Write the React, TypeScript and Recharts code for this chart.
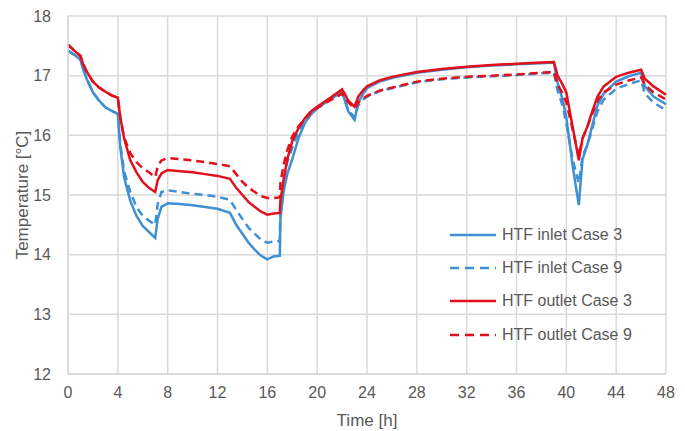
import { LineChart, Line, XAxis, YAxis, CartesianGrid } from 'recharts'

const hours = [
  0, 0.5, 1, 1.2, 1.5, 2, 2.5, 3, 3.5, 4, 4.2, 4.5, 5, 5.5, 6, 6.5, 7, 7.2, 7.5, 8, 9, 10, 11, 12, 13,
  13.5, 14, 14.5, 15, 15.5, 16, 16.5, 17, 17.05, 17.3, 17.6, 18, 18.5, 19, 19.5, 20, 21, 22, 22.2, 22.5,
  23, 23.3, 23.7, 24, 25, 26, 28, 30, 32, 34, 36, 38, 39, 39.3, 39.7, 40, 40.5, 41, 41.3, 41.7, 42, 42.5,
  43, 44, 45, 46, 46.3, 47, 48,
]

const inletCase3 = [
  17.42, 17.35, 17.27, 17.12, 16.95, 16.72, 16.58, 16.47, 16.41, 16.36, 15.8, 15.3, 14.9, 14.65, 14.48,
  14.38, 14.28, 14.6, 14.8, 14.86, 14.85, 14.83, 14.8, 14.77, 14.7, 14.5, 14.35, 14.2, 14.08, 13.98, 13.92,
  13.97, 13.98, 14.6, 15.05, 15.35, 15.6, 15.95, 16.2, 16.35, 16.45, 16.6, 16.72, 16.6, 16.4, 16.26, 16.55,
  16.7, 16.79, 16.9, 16.96, 17.05, 17.1, 17.14, 17.17, 17.19, 17.21, 17.22, 16.88, 16.6, 16.3, 15.5, 14.83,
  15.6, 15.85, 16.1, 16.5, 16.7, 16.9, 16.99, 17.05, 16.82, 16.65, 16.52,
]

const inletCase9 = [
  17.42, 17.35, 17.27, 17.12, 16.95, 16.72, 16.58, 16.47, 16.41, 16.36, 15.85, 15.4, 15.05, 14.8, 14.65,
  14.57, 14.5, 14.85, 15.05, 15.08, 15.05, 15.02, 15.0, 14.97, 14.92, 14.75, 14.6, 14.45, 14.35, 14.25, 14.2,
  14.22, 14.23, 14.8, 15.25, 15.55, 15.8, 16.05, 16.25, 16.38, 16.47, 16.6, 16.7, 16.6, 16.42, 16.3, 16.5,
  16.6, 16.65, 16.74, 16.79, 16.89, 16.94, 16.97, 16.99, 17.01, 17.04, 17.05, 16.75, 16.5, 16.2, 15.6, 15.2,
  15.65, 15.85, 16.05, 16.4, 16.6, 16.78, 16.86, 16.92, 16.7, 16.55, 16.42,
]

const outletCase3 = [
  17.52, 17.42, 17.33, 17.2, 17.07, 16.9, 16.8, 16.73, 16.67, 16.63, 16.3, 15.95, 15.58, 15.38, 15.22,
  15.12, 15.05, 15.25, 15.36, 15.42, 15.4, 15.38, 15.35, 15.32, 15.27, 15.12, 15.0, 14.88, 14.8, 14.72, 14.67,
  14.69, 14.7, 14.9, 15.25, 15.6, 15.9, 16.12, 16.28, 16.4, 16.48, 16.62, 16.77, 16.7, 16.58, 16.48, 16.65,
  16.76, 16.82, 16.92, 16.98, 17.06, 17.11, 17.15, 17.18, 17.2, 17.22, 17.23, 17.0, 16.85, 16.72, 16.15, 15.58,
  15.95, 16.15, 16.35, 16.65, 16.82, 16.98, 17.05, 17.1, 16.95, 16.82, 16.68,
]

const outletCase9 = [
  17.52, 17.42, 17.33, 17.2, 17.07, 16.9, 16.8, 16.73, 16.67, 16.63, 16.3, 15.97, 15.7, 15.55, 15.45,
  15.38, 15.3, 15.48, 15.58, 15.62, 15.6, 15.58, 15.55, 15.52, 15.48, 15.35, 15.22, 15.12, 15.05, 14.98, 14.95,
  14.95, 14.96, 15.2, 15.5, 15.75, 15.98, 16.15, 16.28, 16.38, 16.46, 16.58, 16.7, 16.65, 16.55, 16.45, 16.55,
  16.62, 16.66, 16.75, 16.8, 16.9, 16.95, 16.98, 17.0, 17.02, 17.05, 17.06, 16.85, 16.7, 16.55, 16.1, 15.65,
  15.95, 16.15, 16.32, 16.58, 16.72, 16.85, 16.92, 16.97, 16.85, 16.72, 16.6,
]

const xTicks = [0, 4, 8, 12, 16, 20, 24, 28, 32, 36, 40, 44, 48]
const yTicks = [12, 13, 14, 15, 16, 17, 18]

const BLUE = '#3f8fd4'
const RED = '#e3101b'
const GRID = '#d9d9d9'
const TEXT = '#595959'
const FONT = '"Liberation Sans", Arial, sans-serif'

const series = [
  { key: 'inlet3', name: 'HTF inlet Case 3', color: BLUE, dash: undefined, values: inletCase3 },
  { key: 'inlet9', name: 'HTF inlet Case 9', color: BLUE, dash: '8 5', values: inletCase9 },
  { key: 'outlet3', name: 'HTF outlet Case 3', color: RED, dash: undefined, values: outletCase3 },
  { key: 'outlet9', name: 'HTF outlet Case 9', color: RED, dash: '8 5', values: outletCase9 },
]

const data = hours.map((h, i) => {
  const row: Record<string, number> = { time: h }
  series.forEach((s) => {
    row[s.key] = s.values[i]
  })
  return row
})

// legend sits inside the plot, lower right
function LegendBox() {
  return (
    <div style={{ position: 'absolute', left: 448, top: 218, fontFamily: FONT, fontSize: 16, color: TEXT }}>
      {series.map((s) => (
        <div key={s.key} style={{ display: 'flex', alignItems: 'center', height: 33.3 }}>
          <svg width={50} height={6} style={{ marginRight: 4 }}>
            <line
              x1={2}
              y1={3}
              x2={48}
              y2={3}
              stroke={s.color}
              strokeWidth={2.5}
              strokeDasharray={s.dash ? '9 6' : undefined}
            />
          </svg>
          <span>{s.name}</span>
        </div>
      ))}
    </div>
  )
}

export default function App() {
  return (
    <div style={{ position: 'absolute', left: 0, top: 0, width: 685, height: 431, background: '#fff' }}>
      <LineChart width={685} height={431} data={data} margin={{ top: 16, right: 19, left: 8, bottom: 8 }}>
        <CartesianGrid stroke={GRID} strokeWidth={1.5} />
        <XAxis
          dataKey="time"
          type="number"
          domain={[0, 48]}
          ticks={xTicks}
          interval={0}
          stroke={GRID}
          strokeWidth={1.5}
          tickLine={false}
          tick={{ fill: TEXT, fontSize: 16, fontFamily: FONT }}
          tickMargin={7}
          height={49}
          label={{ value: 'Time [h]', position: 'insideBottom', offset: -3, fill: TEXT, fontSize: 17, fontFamily: FONT }}
        />
        <YAxis
          type="number"
          domain={[12, 18]}
          ticks={yTicks}
          interval={0}
          stroke={GRID}
          strokeWidth={1.5}
          tickLine={false}
          tick={{ fill: TEXT, fontSize: 16, fontFamily: FONT }}
          tickMargin={11}
          width={60}
          label={{
            value: 'Temperature [°C]',
            angle: -90,
            position: 'insideLeft',
            offset: 14,
            style: { textAnchor: 'middle' },
            fill: TEXT,
            fontSize: 17,
            fontFamily: FONT,
          }}
        />
        {series.map((s) => (
          <Line
            key={s.key}
            dataKey={s.key}
            name={s.name}
            stroke={s.color}
            strokeWidth={2.5}
            strokeDasharray={s.dash}
            dot={false}
            activeDot={false}
            type="linear"
            isAnimationActive={false}
          />
        ))}
      </LineChart>
      <LegendBox />
    </div>
  )
}
